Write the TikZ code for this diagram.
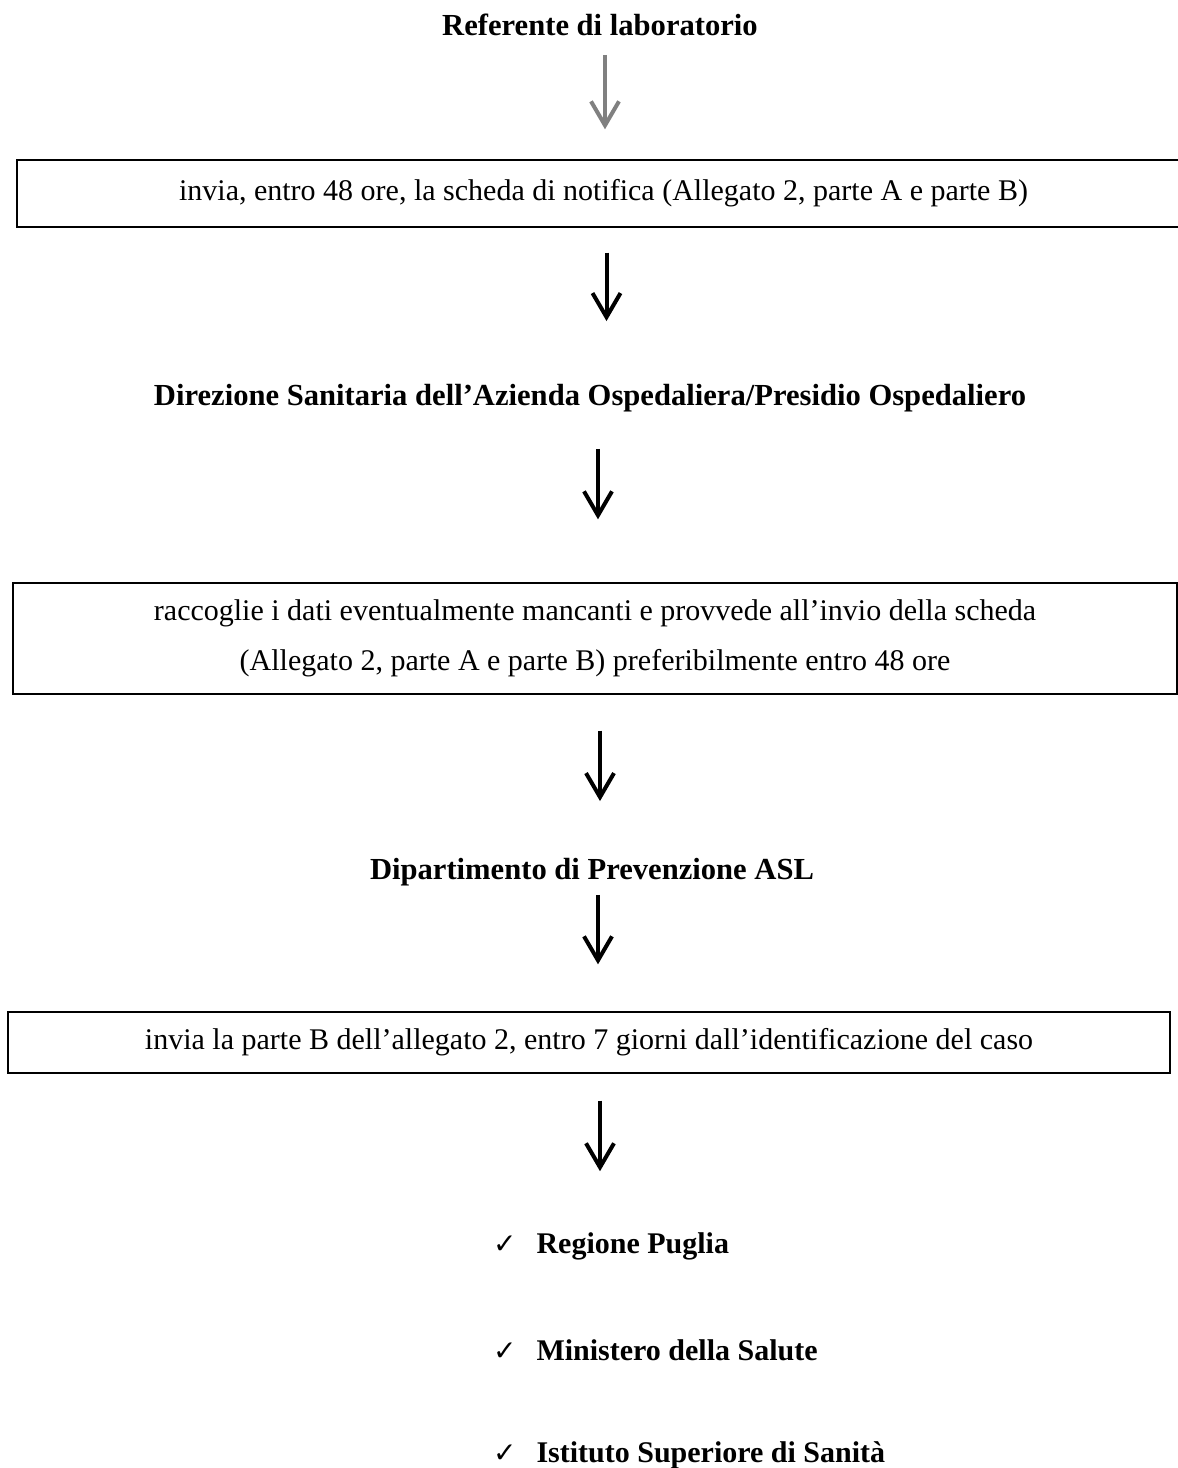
\documentclass[tikz,border=0pt]{standalone}
\usepackage{fontspec}
\setmainfont{Liberation Serif}
\newfontfamily\checkfont{DejaVu Sans}
\usepackage{tikz}
\usetikzlibrary{arrows.meta}
\tikzset{
    flowarrow/.style={-{Straight Barb[length=12pt,width=14pt]}, line width=2pt},
    headtext/.style={font=\fontsize{15.3}{25}\selectfont\bfseries},
    flowbox/.style={draw, line width=0.7pt, align=center, font=\fontsize{15}{25}\selectfont},
    itemtext/.style={anchor=west, font=\fontsize{15}{25}\selectfont\bfseries}
}
\newcommand{\tick}{{\mdseries\checkfont\fontsize{14}{16}\selectfont ✓}\hspace{10pt}}

\begin{document}
\begin{tikzpicture}[x=0.5pt,y=-0.5pt]
    \useasboundingbox (0,0) rectangle (1178,1468);

    \node[headtext] (ref) at (600,25) {Referente di laboratorio};
    \node[flowbox, minimum width=586.5pt, minimum height=33.5pt] (box1) at (603.5,193.5) {invia, entro 48 ore, la scheda di notifica (Allegato 2, parte A e parte B)};

    \node[headtext] (dir) at (590,398) {Direzione Sanitaria dell’Azienda Ospedaliera/Presidio Ospedaliero};
    \node[flowbox, minimum width=582pt, minimum height=55.5pt] (box2) at (595,638.5) {raccoglie i dati eventualmente mancanti e provvede all’invio della scheda\\(Allegato 2, parte A e parte B) preferibilmente entro 48 ore};

    \node[headtext] (dip) at (592,872) {Dipartimento di Prevenzione ASL};
    \node[flowbox, minimum width=581pt, minimum height=30.5pt] (box3) at (589,1042.5) {invia la parte B dell’allegato 2, entro 7 giorni dall’identificazione del caso};

    \node[itemtext] (reg) at (486,1246) {\tick Regione Puglia};
    \node[itemtext] (min) at (486,1350) {\tick Ministero della Salute};
    \node[itemtext] (iss) at (486,1455) {\tick Istituto Superiore di Sanità};

    \path [flowarrow, gray, shorten <=6pt, shorten >=15pt]([xshift=2.5pt]ref.south) edge ([xshift=2.5pt]ref.south |- box1.north);
    \path [flowarrow, shorten <=12.5pt, shorten >=28pt]([xshift=1.5pt]box1.south) edge ([xshift=1.5pt]box1.south |- dir.north);
    \path [flowarrow, shorten <=15pt, shorten >=31.5pt]([xshift=4pt]dir.south) edge ([xshift=4pt]dir.south |- box2.north);
    \path [flowarrow, shorten <=18pt, shorten >=25pt]([xshift=2.5pt]box2.south) edge ([xshift=2.5pt]box2.south |- dip.north);
    \path [flowarrow, shorten <=1pt, shorten >=23.5pt]([xshift=3pt]dip.south) edge ([xshift=3pt]dip.south |- box3.north);
    \path [flowarrow, shorten <=13.5pt, shorten >=27pt]([xshift=5.5pt]box3.south) edge ([xshift=5.5pt]box3.south |- reg.north);
\end{tikzpicture}
\end{document}
